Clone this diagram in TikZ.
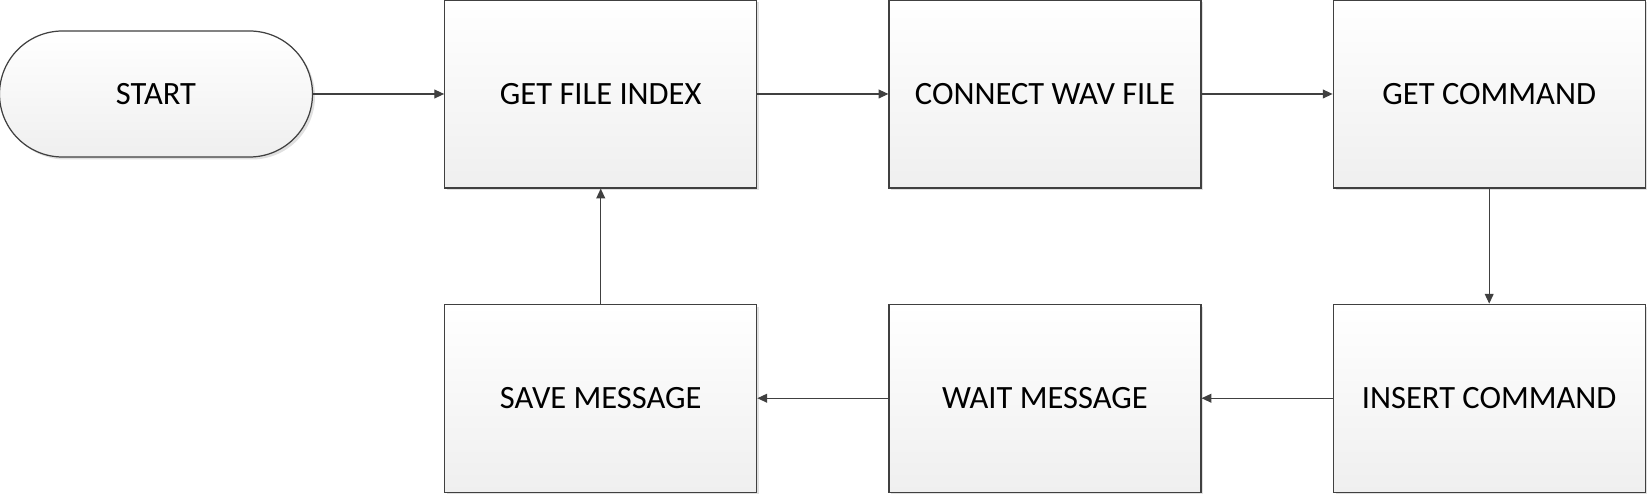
\documentclass[tikz,border=0pt]{standalone}
\usepackage{fontspec}
\setmainfont{Carlito}
\usetikzlibrary{positioning, arrows.meta, shadows}

\begin{document}
\begin{tikzpicture}[
  font=\fontsize{18.5}{21}\selectfont,
  >={Triangle[length=5.5pt,width=5pt]},
  node distance=2.3cm and 2.62cm,
]

\definecolor{cLine}{HTML}{404040}
\definecolor{cBot} {HTML}{EFEFEF}

\tikzset{
  stepbox/.style={draw=cLine, line width=0.7pt, rectangle,
    top color=white, bottom color=cBot,
    minimum width=6.24cm, minimum height=3.76cm, inner sep=0pt,
    drop shadow={shadow xshift=0.05cm, shadow yshift=-0.05cm,
                 fill=black!12, opacity=1}},
  termbox/.style={stepbox, minimum width=6.26cm, minimum height=2.52cm,
    rounded corners=1.26cm},
  flow/.style={draw=cLine, line width=0.6pt, ->},
}

% =====================================================================
% page
% =====================================================================
\useasboundingbox (0,0) rectangle (32.94,9.88);

% =====================================================================
% top row
% =====================================================================
\node[termbox] (start) at (3.12, 8.0) {START};
\node[stepbox, right=of start] (getIdx) {GET FILE INDEX};
\node[stepbox, right=of getIdx] (connWav) {CONNECT WAV FILE};
\node[stepbox, right=of connWav] (getCmd) {GET COMMAND};

% =====================================================================
% bottom row
% =====================================================================
\node[stepbox, below=of getCmd] (insCmd) {INSERT COMMAND};
\node[stepbox, left=of insCmd] (waitMsg) {WAIT MESSAGE};
\node[stepbox, left=of waitMsg] (saveMsg) {SAVE MESSAGE};

% connectors
\draw[flow] (start) -- (getIdx);
\draw[flow] (getIdx) -- (connWav);
\draw[flow] (connWav) -- (getCmd);
\draw[flow] (getCmd) -- (insCmd);
\draw[flow] (insCmd) -- (waitMsg);
\draw[flow] (waitMsg) -- (saveMsg);
\draw[flow] (saveMsg) -- (getIdx);

\end{tikzpicture}
\end{document}
